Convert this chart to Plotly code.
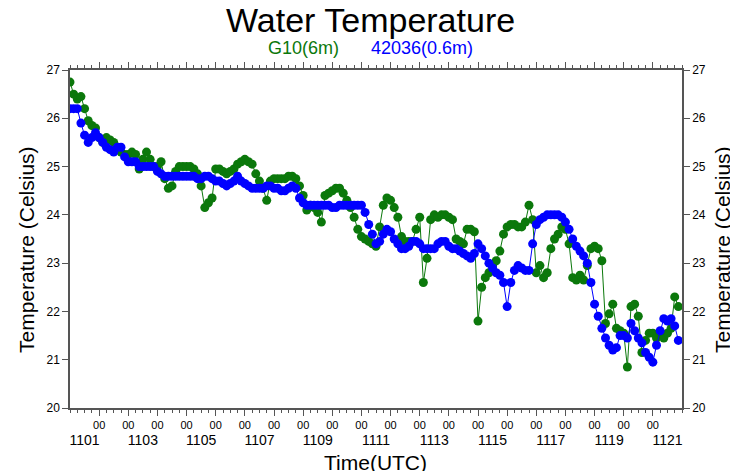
import numpy as np
import plotly.graph_objects as go

# 3-hourly readings starting 1101 00UTC (hours since start)
hours = np.arange(0, 504, 3)

# G10 (6m) water temperature
g10 = [26.75, 26.5, 26.4, 26.45, 26.2, 25.95, 25.85, 25.8, 25.6, 25.5,
       25.6, 25.55, 25.5, 25.4, 25.3, 25.25, 25.25, 25.3, 25.25, 24.95,
       25.15, 25.3, 25.15, 25.0, 25.0, 25.1, 24.75, 24.55, 24.6, 24.9,
       25.0, 25.0, 25.0, 25.0, 24.95, 24.85, 24.6, 24.15, 24.25, 24.35,
       24.95, 24.95, 24.9, 24.85, 24.9, 24.95, 25.05, 25.1, 25.15, 25.1,
       25.05, 24.85, 24.7, 24.55, 24.3, 24.7, 24.75, 24.75, 24.75, 24.75,
       24.8, 24.8, 24.75, 24.6, 24.4, 24.1, 24.2, 24.15, 24.05, 23.85,
       24.4, 24.45, 24.5, 24.55, 24.55, 24.45, 24.3, 24.15, 23.95, 23.7,
       23.55, 23.5, 23.45, 23.4, 23.35, 23.75, 24.2, 24.35, 24.3, 24.15,
       23.95, 23.55, 23.45, 23.45, 23.45, 23.7, 23.95, 22.6, 23.1, 23.9,
       24.0, 23.95, 24.0, 24.0, 23.95, 23.9, 23.5, 23.45, 23.4, 23.7,
       23.7, 23.65, 21.8, 22.5, 22.7, 22.8, 22.95, 23.05, 23.25, 23.6,
       23.75, 23.8, 23.8, 23.75, 23.75, 23.85, 24.2, 23.9, 22.8, 22.95,
       22.7, 22.8, 23.3, 23.5, 23.6, 23.75, 23.7, 23.4, 22.7, 22.65,
       22.75, 22.65, 22.95, 23.3, 23.35, 23.3, 23.05, 21.75, 21.95, 22.15,
       21.65, 21.6, 21.55, 20.85, 22.1, 22.15, 21.9, 21.15, 21.4, 21.55,
       21.55, 21.45, 21.55, 21.45, 21.55, 21.65, 22.3, 22.1]

# buoy 42036 (0.6m) water temperature
b42036 = [26.2, 26.2, 26.2, 25.9, 25.65, 25.5, 25.6, 25.7, 25.6, 25.5,
          25.4, 25.35, 25.3, 25.4, 25.4, 25.2, 25.1, 25.1, 25.1, 25.0,
          25.0, 25.0, 25.0, 25.0, 24.9, 24.85, 24.8, 24.8, 24.8, 24.8,
          24.8, 24.8, 24.8, 24.8, 24.8, 24.75, 24.75, 24.8, 24.8, 24.75,
          24.7, 24.7, 24.65, 24.6, 24.65, 24.7, 24.8, 24.7, 24.65, 24.6,
          24.55, 24.55, 24.55, 24.55, 24.6, 24.6, 24.55, 24.55, 24.5, 24.5,
          24.55, 24.6, 24.55, 24.35, 24.25, 24.2, 24.2, 24.2, 24.2, 24.2,
          24.2, 24.2, 24.15, 24.15, 24.2, 24.2, 24.2, 24.2, 24.2, 24.2,
          24.2, 24.05, 23.8, 23.6, 23.4, 23.45, 23.6, 23.7, 23.65, 23.5,
          23.4, 23.3, 23.3, 23.35, 23.45, 23.45, 23.4, 23.3, 23.3, 23.3,
          23.3, 23.4, 23.45, 23.45, 23.35, 23.3, 23.3, 23.25, 23.2, 23.15,
          23.1, 23.2, 23.4, 23.3, 23.15, 23.0, 22.9, 22.8, 22.75, 22.6,
          22.1, 22.6, 22.85, 22.95, 22.9, 22.85, 22.85, 23.4, 23.8, 23.9,
          23.95, 24.0, 24.0, 24.0, 24.0, 23.95, 23.85, 23.7, 23.5, 23.35,
          23.25, 23.15, 23.0, 22.6, 22.15, 21.9, 21.65, 21.45, 21.3, 21.2,
          21.25, 21.5, 21.5, 21.45, 21.75, 21.6, 21.45, 21.35, 21.15, 21.05,
          20.95, 21.3, 21.6, 21.85, 21.8, 21.85, 21.7, 21.4]

# axis labels
hour_ticks = list(range(1, 21))          # 00UTC of 1102 .. 1121
hour_text = ["00"] * len(hour_ticks)
date_ticks = [d + 0.5 for d in range(0, 21, 2)]
date_text = ["11%02d" % (d + 1) for d in range(0, 21, 2)]
temp_ticks = [20, 21, 22, 23, 24, 25, 26, 27]

GREEN = "#0b780b"
BLUE = "#0000ff"
FONT = "Liberation Sans, Arial, sans-serif"
days = hours / 24.0

fig = go.Figure()
fig.add_trace(go.Scatter(x=days, y=g10, mode="lines+markers", name="G10(6m)",
                         line=dict(color=GREEN, width=1),
                         marker=dict(color=GREEN, size=9)))
fig.add_trace(go.Scatter(x=days, y=b42036, mode="lines+markers", name="42036(0.6m)",
                         line=dict(color=BLUE, width=1),
                         marker=dict(color=BLUE, size=9)))
# carriers for the secondary axes (dates row, right temperature axis)
fig.add_trace(go.Scatter(x=[None], y=[None], xaxis="x2", showlegend=False, hoverinfo="skip"))
fig.add_trace(go.Scatter(x=[None], y=[None], yaxis="y2", showlegend=False, hoverinfo="skip"))

axis_line = dict(showline=True, linecolor="#555", linewidth=1.5, showgrid=False,
                 zeroline=False, tickcolor="#555")

fig.update_layout(
    width=730, height=471,
    margin=dict(l=70, r=48, t=70, b=63),
    paper_bgcolor="white", plot_bgcolor="white",
    showlegend=False,
    font=dict(family=FONT, color="black"),
    xaxis=dict(range=[0, 21], tickvals=hour_ticks, ticktext=hour_text,
               ticks="outside", ticklen=6, tickwidth=1, mirror="ticks",
               tickfont=dict(size=11, color="black"),
               minor=dict(dtick=0.25, tick0=0, ticks="outside", ticklen=3, tickcolor="#555"),
               **axis_line),
    xaxis2=dict(range=[0, 21], overlaying="x", side="bottom", anchor="y",
                tickvals=date_ticks, ticktext=date_text, ticks="",
                ticklabelstandoff=22, showline=False, showgrid=False, zeroline=False,
                tickfont=dict(size=14, color="black")),
    yaxis=dict(range=[20, 27], tickvals=temp_ticks, ticks="outside", ticklen=6,
               tickwidth=1, tickfont=dict(size=12, color="black"), **axis_line),
    yaxis2=dict(range=[20, 27], overlaying="y", side="right", anchor="x",
                tickvals=temp_ticks, ticks="outside", ticklen=6, tickwidth=1,
                tickfont=dict(size=12, color="black"), **axis_line),
)


def px(xp, yp):
    # pixel position -> paper coordinates
    return (xp - 70) / 612.0, (408 - yp) / 338.0


for txt, xp, yp, size, col, ang in [
        ("Water Temperature", 370, 20, 34, "black", 0),
        ("G10(6m)", 303, 48, 18, GREEN, 0),
        ("42036(0.6m)", 422, 48, 18, BLUE, 0),
        ("Time(UTC)", 375, 462, 21, "black", 0),
        ("Temperature (Celsius)", 26, 250, 21, "black", -90),
        ("Temperature (Celsius)", 722, 250, 21, "black", -90)]:
    xx, yy = px(xp, yp)
    fig.add_annotation(text=txt, x=xx, y=yy, xref="paper", yref="paper",
                       xanchor="center", yanchor="middle", showarrow=False,
                       textangle=ang, font=dict(size=size, color=col))

fig.write_html("out.html", config={"displayModeBar": False},
               post_script="document.body.style.margin='0';document.body.style.overflow='hidden';")
